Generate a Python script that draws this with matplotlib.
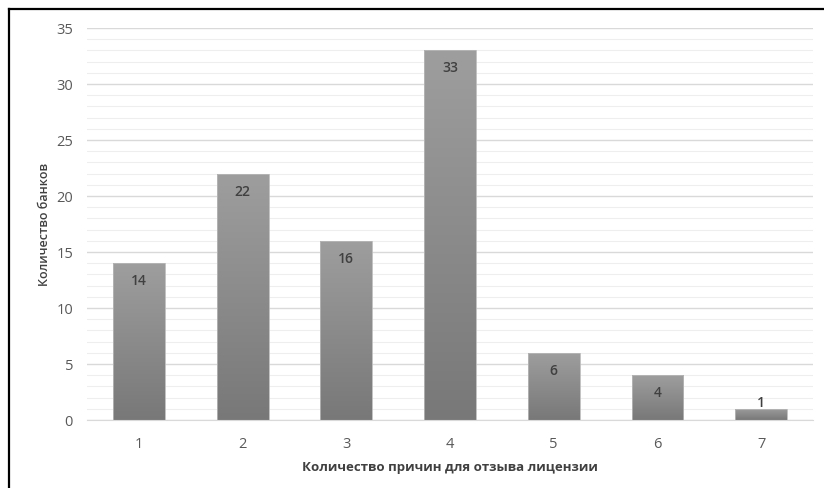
import matplotlib
matplotlib.use('Agg')
import matplotlib.pyplot as plt
from matplotlib.lines import Line2D
import numpy as np

plt.rcParams['font.family'] = ['Open Sans', 'DejaVu Sans']

# ── data ──────────────────────────────────────────────────────────────────────
reasons = ['1', '2', '3', '4', '5', '6', '7']
banks   = [14, 22, 16, 33, 6, 4, 1]

fig = plt.figure(figsize=(8.24, 4.88), dpi=100)
fig.patch.set_facecolor('white')
ax = fig.add_axes([87/824, 68/488, 726/824, 392/488])

x = np.arange(len(reasons))
bars = ax.bar(x, banks, width=0.5, color='none', edgecolor='#b8b8b8',
              linewidth=0.6, zorder=3)

# vertical gray gradient inside each bar (lighter on top)
grad = np.linspace(0, 1, 256).reshape(-1, 1)
cmap = matplotlib.colors.LinearSegmentedColormap.from_list('g', ['#787878', '#9e9e9e'])
for bar in bars:
    x0, w, h = bar.get_x(), bar.get_width(), bar.get_height()
    im = ax.imshow(grad, cmap=cmap, extent=(x0, x0 + w, 0, h), origin='lower',
                   aspect='auto', zorder=2)
    im.set_clip_path(bar)

for xi, v in zip(x, banks):
    dy = -13 if v >= 3 else 4
    ax.annotate(str(v), (xi, v), xytext=(0, dy), textcoords='offset points',
                ha='center', va='center', fontsize=10, fontweight='semibold',
                color='#404040')

ax.set_xlim(-0.5, len(reasons) - 0.5)
ax.set_ylim(0, 35)
ax.set_xticks(x)
ax.set_xticklabels(reasons)
ax.set_yticks(range(0, 36, 5))
ax.set_yticks(range(0, 36), minor=True)
ax.grid(axis='y', which='major', color='#d9d9d9', linewidth=1.0, zorder=0)
ax.grid(axis='y', which='minor', color='#eeeeee', linewidth=0.8, zorder=0)
ax.set_axisbelow(True)

for side in ['top', 'right', 'left']:
    ax.spines[side].set_visible(False)
ax.spines['bottom'].set_color('#d9d9d9')
ax.tick_params(axis='both', which='both', length=0, labelsize=10.5,
               labelcolor='#595959')
ax.tick_params(axis='x', pad=12)
ax.tick_params(axis='y', pad=10)

ax.set_xlabel('Количество причин для отзыва лицензии', fontsize=9.5,
              color='#404040', fontweight='bold', labelpad=7)
ax.set_ylabel('Количество банков', fontsize=9, color='#404040',
              fontweight='semibold', labelpad=4)

# frame lines along left and top edges
fig.add_artist(Line2D([9/824, 9/824], [0, 1 - 9/488], color='black',
                      linewidth=1.6, transform=fig.transFigure))
fig.add_artist(Line2D([9/824, 1], [1 - 9/488, 1 - 9/488], color='black',
                      linewidth=1.6, transform=fig.transFigure))

plt.savefig('out.png', dpi=100, facecolor='white')
